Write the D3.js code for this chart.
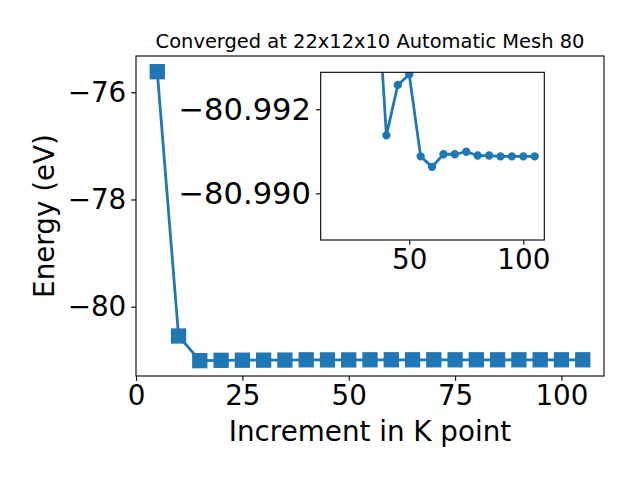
<!DOCTYPE html>
<html>
<head>
<meta charset="utf-8">
<script src="https://cdn.jsdelivr.net/npm/d3@7"></script>
<style>
  html, body { margin: 0; padding: 0; background: #fff; }
  svg { display: block; }
  text { font-family: "DejaVu Sans", sans-serif; fill: #000; }
</style>
</head>
<body>
<div id="chart"></div>
<script>
// ---- data ----
const kpoints = [5, 10, 15, 20, 25, 30, 35, 40, 45, 50, 55, 60, 65, 70, 75, 80, 85, 90, 95, 100, 105];
const energy = [-75.616, -80.547, -81.007, -81.000, -80.998, -80.997, -80.9957,
  -80.99138, -80.99258, -80.99283, -80.99088, -80.99063, -80.99093, -80.99093,
  -80.99099, -80.99090, -80.99090, -80.99088, -80.99088, -80.99088, -80.99088];
const insetStartIndex = 2;   // inset shows the points from 15 onward
const mainXTicks = [0, 25, 50, 75, 100];
const mainYTicks = [-76, -78, -80];
const insetXTicks = [50, 100];
const insetYTicks = [-80.992, -80.990];
const titleText = "Converged at 22x12x10 Automatic Mesh 80";
const xLabel = "Increment in K point";
const yLabel = "Energy (eV)";

const data = kpoints.map((k, i) => ({ k: k, e: energy[i] }));
const insetData = data.slice(insetStartIndex);

const W = 640, H = 480;
const color = "#1f77b4";
const fs = 27.78;       // 20pt
const fsInsetY = 30.56; // 22pt
const tickLen = 4.86, tickPad = 4.86;

const svg = d3.select("#chart").append("svg")
  .attr("width", W).attr("height", H)
  .style("background", "#fff");

// ---- main axes ----
const M = { left: 136, right: 604, top: 56, bottom: 376 };
const x = d3.scaleLinear().domain([0, 110]).range([M.left, M.right]);
const y = d3.scaleLinear().domain([-81.293, -75.323]).range([M.bottom, M.top]);

function styleAxis(g, size) {
  g.select(".domain").remove();
  g.selectAll(".tick line").attr("stroke", "#000").attr("stroke-width", 1.1);
  g.selectAll(".tick text").attr("font-size", size || fs).attr("font-family", "DejaVu Sans").attr("fill", "#000");
}

svg.append("g").attr("transform", `translate(0,${M.bottom})`)
  .call(d3.axisBottom(x).tickValues(mainXTicks).tickFormat(d3.format("d"))
    .tickSize(tickLen).tickPadding(tickPad).tickSizeOuter(0))
  .call(styleAxis);

svg.append("g").attr("transform", `translate(${M.left},0)`)
  .call(d3.axisLeft(y).tickValues(mainYTicks).tickFormat(d3.format("d"))
    .tickSize(tickLen).tickPadding(tickPad).tickSizeOuter(0))
  .call(styleAxis);

svg.append("clipPath").attr("id", "mainclip").append("rect")
  .attr("x", M.left).attr("y", M.top).attr("width", M.right - M.left).attr("height", M.bottom - M.top);

const mainG = svg.append("g").attr("clip-path", "url(#mainclip)");
mainG.append("path").datum(data)
  .attr("fill", "none").attr("stroke", color).attr("stroke-width", 2.78)
  .attr("stroke-linejoin", "round").attr("stroke-linecap", "square")
  .attr("d", d3.line().x(d => x(d.k)).y(d => y(d.e)));
const sq = 13.9;
mainG.selectAll("rect.mk").data(data).enter().append("rect")
  .attr("class", "mk")
  .attr("x", d => x(d.k) - sq / 2).attr("y", d => y(d.e) - sq / 2)
  .attr("width", sq).attr("height", sq)
  .attr("fill", color).attr("stroke", color).attr("stroke-width", 1.39);

svg.append("rect").attr("x", M.left).attr("y", M.top)
  .attr("width", M.right - M.left).attr("height", M.bottom - M.top)
  .attr("fill", "none").attr("stroke", "#000").attr("stroke-width", 1.1);

// labels
svg.append("text").attr("x", (M.left + M.right) / 2).attr("y", 47.7)
  .attr("text-anchor", "middle").attr("font-size", 19.44).text(titleText);
svg.append("text").attr("x", (M.left + M.right) / 2).attr("y", 441)
  .attr("text-anchor", "middle").attr("font-size", fs).text(xLabel);
svg.append("text").attr("transform", `translate(53.5,${(M.top + M.bottom) / 2}) rotate(-90)`)
  .attr("text-anchor", "middle").attr("font-size", fs).text(yLabel);

// ---- inset axes ----
const I = { left: 320.7, right: 544.3, top: 72.3, bottom: 240 };
const xi = d3.scaleLinear().domain([11.2, 109.2]).range([I.left, I.right]);
const yi = d3.scaleLinear().domain([-80.99288, -80.98889]).range([I.top, I.bottom]);

svg.append("rect").attr("x", I.left).attr("y", I.top)
  .attr("width", I.right - I.left).attr("height", I.bottom - I.top)
  .attr("fill", "#fff");

svg.append("g").attr("transform", `translate(0,${I.bottom})`)
  .call(d3.axisBottom(xi).tickValues(insetXTicks).tickFormat(d3.format("d"))
    .tickSize(tickLen).tickPadding(tickPad).tickSizeOuter(0))
  .call(styleAxis);

svg.append("g").attr("transform", `translate(${I.left},0)`)
  .call(d3.axisLeft(yi).tickValues(insetYTicks).tickFormat(d3.format(".3f"))
    .tickSize(tickLen).tickPadding(tickPad).tickSizeOuter(0))
  .call(g => styleAxis(g, fsInsetY));

svg.append("clipPath").attr("id", "insetclip").append("rect")
  .attr("x", I.left).attr("y", I.top).attr("width", I.right - I.left).attr("height", I.bottom - I.top);

const insG = svg.append("g").attr("clip-path", "url(#insetclip)");
insG.append("path").datum(insetData)
  .attr("fill", "none").attr("stroke", color).attr("stroke-width", 2.78)
  .attr("stroke-linejoin", "round").attr("stroke-linecap", "square")
  .attr("d", d3.line().x(d => xi(d.k)).y(d => yi(d.e)));
insG.selectAll("circle.mk").data(insetData).enter().append("circle")
  .attr("class", "mk")
  .attr("cx", d => xi(d.k)).attr("cy", d => yi(d.e)).attr("r", 3.47)
  .attr("fill", color).attr("stroke", color).attr("stroke-width", 1.39);

svg.append("rect").attr("x", I.left).attr("y", I.top)
  .attr("width", I.right - I.left).attr("height", I.bottom - I.top)
  .attr("fill", "none").attr("stroke", "#000").attr("stroke-width", 1.1);
</script>
</body>
</html>
